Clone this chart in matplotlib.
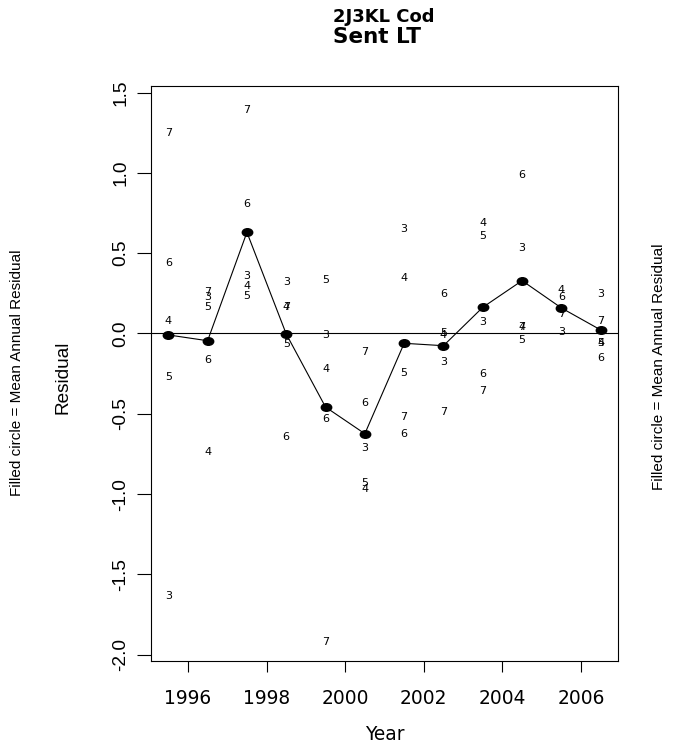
import numpy as np
import matplotlib

matplotlib.use("Agg")
import matplotlib.pyplot as plt
from matplotlib.path import Path

# survey years (plotted mid-year) and residuals by age
years = [1995.5, 1996.5, 1997.5, 1998.5, 1999.5, 2000.5,
         2001.5, 2002.5, 2003.5, 2004.5, 2005.5, 2006.5]
ages = ["3", "4", "5", "6", "7"]
age3 = [-1.633, 0.227, 0.358, 0.319, -0.009, -0.715, 0.651, -0.179, 0.073, 0.531, 0.011, 0.246]
age4 = [0.080, -0.738, 0.296, 0.167, -0.221, -0.970, 0.346, -0.009, 0.690, 0.039, 0.271, -0.057]
age5 = [-0.269, 0.167, 0.235, -0.065, 0.333, -0.933, -0.244, 0.005, 0.609, -0.040, np.nan, -0.057]
age6 = [0.439, -0.165, 0.806, -0.643, -0.534, -0.431, -0.628, 0.246, -0.254, 0.987, 0.225, -0.154]
age7 = [1.250, 0.260, 1.392, 0.167, -1.919, -0.113, -0.518, -0.489, -0.358, 0.039, 0.121, 0.080]
mean_resid = [-0.009, -0.045, 0.630, -0.003, -0.458, -0.624,
              -0.061, -0.076, 0.163, 0.329, 0.159, 0.022]

xticks = [1996, 1998, 2000, 2002, 2004, 2006]
yticks = [-2.0, -1.5, -1.0, -0.5, 0.0, 0.5, 1.0, 1.5]

W, H = 677, 753
fig = plt.figure(figsize=(W / 100, H / 100), dpi=100)
ax = fig.add_axes([151 / W, 1 - 661 / H, (618 - 151) / W, (661 - 86.3) / H])

# slightly squashed dot, like the stretched original
circ = Path.unit_circle()
dot = Path(circ.vertices * np.array([1.0, 0.73]), circ.codes)

ax.axhline(0, color="black", linewidth=0.8)
for lab, vals in zip(ages, [age3, age4, age5, age6, age7]):
    for x, v in zip(years, vals):
        if np.isfinite(v):
            ax.text(x, v, lab, ha="center", va="center", fontsize=8,
                    family="DejaVu Sans")
ax.plot(years, mean_resid, color="black", linewidth=0.8, marker=dot,
        markersize=7.5)

ax.set_xlim(1995.06, 2006.94)
ax.set_ylim(-2.039, 1.539)
ax.set_xticks(xticks)
ax.set_xticklabels([str(t) for t in xticks], family="DejaVu Sans", fontsize=13.4)
ax.set_yticks(yticks)
ax.set_yticklabels([f"{t:.1f}" for t in yticks], family="Liberation Sans",
                   fontsize=13.8, rotation=90, va="center")
ax.tick_params(axis="x", direction="out", length=8.2, width=0.8, pad=12)
ax.tick_params(axis="y", direction="out", length=9.8, width=0.8, pad=6)
for s in ax.spines.values():
    s.set_linewidth(0.8)

fig.text(384 / W, 1 - 17 / H, "2J3KL Cod", ha="center", va="center",
         fontsize=13, fontweight="bold", family="DejaVu Sans")
fig.text(377 / W, 1 - 37 / H, "Sent LT", ha="center", va="center",
         fontsize=15.5, fontweight="bold", family="DejaVu Sans")
fig.text(385 / W, 1 - 735 / H, "Year", ha="center", va="center",
         fontsize=13.4, family="DejaVu Sans")
fig.text(63 / W, 1 - 377 / H, "Residual", ha="center", va="center",
         rotation=90, fontsize=13.7, family="Liberation Sans")
fig.text(17.5 / W, 1 - 373 / H, "Filled circle = Mean Annual Residual",
         ha="center", va="center", rotation=90, fontsize=11,
         family="Liberation Sans")
fig.text(659 / W, 1 - 367 / H, "Filled circle = Mean Annual Residual",
         ha="center", va="center", rotation=90, fontsize=11,
         family="Liberation Sans")

fig.savefig("out.png", dpi=100)
plt.close(fig)
